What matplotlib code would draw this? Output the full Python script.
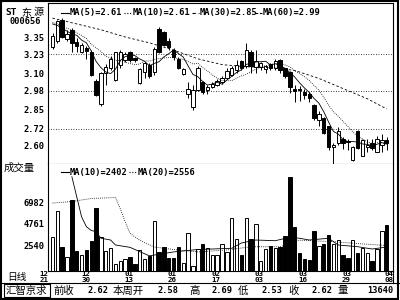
import matplotlib

matplotlib.use("Agg")

import matplotlib.pyplot as plt
import numpy as np
from matplotlib.lines import Line2D
from matplotlib.patches import Rectangle

# ---- daily candles, 12/21 .. 04/08 (70 sessions) ----
opens = [3.28, 3.32, 3.47, 3.335, 3.40, 3.318, 3.25, 3.272, 3.25, 3.05,
         2.89, 3.10, 3.135, 3.055, 3.16, 3.19, 3.25, 3.205, 3.035, 3.11,
         3.16, 3.11, 3.405, 3.385, 3.32, 3.26, 3.20, 3.095, 2.96, 2.87,
         2.985, 3.042, 2.985, 3.008, 3.02, 3.04, 3.07, 3.09, 3.12, 3.187,
         3.15, 3.249, 3.146, 3.146, 3.128, 3.164, 3.135, 3.19, 3.135, 3.11,
         2.99, 2.99, 2.974, 2.958, 2.882, 2.78, 2.79, 2.737, 2.59, 2.62,
         2.646, 2.635, 2.503, 2.705, 2.53, 2.595, 2.62, 2.56, 2.607, 2.64]
highs = [3.38, 3.47, 3.48, 3.40, 3.41, 3.34, 3.31, 3.29, 3.26, 3.06,
         3.11, 3.165, 3.22, 3.25, 3.26, 3.25, 3.255, 3.215, 3.14, 3.18,
         3.17, 3.28, 3.42, 3.39, 3.34, 3.275, 3.21, 3.14, 3.04, 3.02,
         3.15, 3.05, 3.02, 3.04, 3.06, 3.08, 3.135, 3.15, 3.19, 3.19,
         3.31, 3.26, 3.26, 3.18, 3.16, 3.17, 3.20, 3.20, 3.14, 3.115,
         3.02, 3.01, 2.99, 2.97, 2.89, 2.84, 2.80, 2.74, 2.62, 2.73,
         2.66, 2.65, 2.60, 2.71, 2.645, 2.65, 2.65, 2.67, 2.68, 2.66]
lows = [3.27, 3.31, 3.34, 3.32, 3.245, 3.25, 3.24, 3.20, 3.085, 2.945,
        2.875, 3.02, 3.12, 3.05, 3.14, 3.18, 3.18, 3.175, 3.03, 3.07,
        3.07, 3.09, 3.24, 3.285, 3.26, 3.19, 3.13, 3.09, 2.93, 2.85,
        2.98, 2.96, 2.96, 3.00, 3.01, 3.03, 3.06, 3.08, 3.10, 3.12,
        3.14, 3.10, 3.10, 3.12, 3.10, 3.12, 3.12, 3.105, 3.07, 2.963,
        2.90, 2.91, 2.92, 2.90, 2.78, 2.74, 2.68, 2.57, 2.47, 2.61,
        2.58, 2.57, 2.50, 2.58, 2.53, 2.56, 2.57, 2.56, 2.56, 2.57]
closes = [3.36, 3.46, 3.35, 3.37, 3.31, 3.285, 3.295, 3.256, 3.09, 2.95,
          3.105, 3.145, 3.20, 3.245, 3.25, 3.235, 3.19, 3.19, 3.13, 3.17,
          3.08, 3.27, 3.25, 3.295, 3.28, 3.215, 3.14, 3.13, 2.99, 2.985,
          3.14, 2.974, 3.008, 3.03, 3.045, 3.07, 3.116, 3.14, 3.157, 3.135,
          3.26, 3.15, 3.187, 3.169, 3.15, 3.135, 3.187, 3.123, 3.082, 3.004,
          2.98, 2.982, 2.95, 2.928, 2.79, 2.82, 2.69, 2.595, 2.607, 2.705,
          2.62, 2.628, 2.595, 2.584, 2.64, 2.607, 2.584, 2.646, 2.64, 2.62]

ma5 = [3.44, 3.43, 3.41, 3.39, 3.37, 3.362, 3.329, 3.310, 3.254, 3.182,
       3.139, 3.109, 3.098, 3.129, 3.189, 3.215, 3.224, 3.222, 3.199, 3.183,
       3.152, 3.168, 3.180, 3.213, 3.235, 3.262, 3.236, 3.212, 3.151, 3.092,
       3.077, 3.044, 3.019, 3.027, 3.039, 3.025, 3.054, 3.080, 3.106, 3.124,
       3.162, 3.168, 3.178, 3.180, 3.183, 3.158, 3.166, 3.153, 3.135, 3.106,
       3.075, 3.035, 3.000, 2.969, 2.927, 2.895, 2.836, 2.765, 2.700, 2.683,
       2.643, 2.631, 2.631, 2.627, 2.614, 2.611, 2.602, 2.612, 2.623, 2.613]
ma10 = [3.45, 3.44, 3.42, 3.41, 3.40, 3.38, 3.36, 3.34, 3.30, 3.276,
        3.250, 3.219, 3.204, 3.191, 3.185, 3.177, 3.167, 3.160, 3.164, 3.186,
        3.184, 3.196, 3.201, 3.206, 3.209, 3.207, 3.202, 3.196, 3.182, 3.164,
        3.170, 3.140, 3.116, 3.089, 3.066, 3.051, 3.049, 3.050, 3.067, 3.082,
        3.094, 3.111, 3.129, 3.143, 3.153, 3.160, 3.167, 3.165, 3.158, 3.145,
        3.117, 3.100, 3.077, 3.052, 3.016, 2.985, 2.935, 2.882, 2.835, 2.805,
        2.769, 2.734, 2.698, 2.664, 2.649, 2.627, 2.617, 2.622, 2.625, 2.613]
ma30_idx = [0, 5, 10, 15, 20, 25, 30, 35, 40, 45, 50, 55, 60, 65, 69]
ma30 = [3.48, 3.44, 3.40, 3.35, 3.31, 3.26, 3.20, 3.16, 3.145, 3.14,
        3.12, 3.065, 2.995, 2.925, 2.855]

volume = [3460, 6120, 2436, 1350, 7216, 1996, 1586, 2098, 3020, 6366,
          3460, 2026, 2272, 665, 1003, 1146, 1412, 665, 2098, 1146,
          1484, 5066, 1924, 2436, 1249, 1249, 2374, 737, 3869, 460,
          2200, 2680, 2333, 1586, 1586, 2680, 1860, 5400, 3190, 1586,
          5340, 3190, 4760, 972, 2200, 2507, 2272, 2436, 3562, 9600,
          4421, 1822, 1146, 1075, 4043, 2507, 2680, 3633, 2712, 3122,
          1586, 1310, 3122, 1760, 2333, 1760, 1003, 2200, 4043, 4657]
vma10_idx = [4, 5, 6, 7, 8, 9, 10, 12, 13, 16, 20, 25, 30, 37, 39, 42,
             46, 49, 51, 53, 57, 59, 63, 66, 69]
vma10 = [9600, 7550, 5500, 4480, 4100, 3970, 3300, 3120, 2610, 2370, 1500,
         1900, 2150, 2270, 2815, 3120, 3050, 3400, 3300, 3120, 3300, 2610,
         2436, 2200, 2402]
vma20_idx = [0, 4, 8, 13, 14, 15, 16, 18, 21, 25, 30, 36, 41, 47, 51, 58,
             63, 69]
vma20 = [6900, 7060, 7370, 7470, 6300, 5000, 3800, 3100, 2400, 2150, 1900,
         2100, 2430, 2430, 3100, 2950, 2750, 2556]

price_ticks = [3.35, 3.23, 3.10, 2.98, 2.85, 2.72, 2.60]
price_grid = [3.23, 2.98, 2.72]
volume_ticks = [2540, 4761, 6982]
date_pos = [-1.7, 6.9, 15.8, 24.7, 33.7, 42.7, 51.7, 60.7, 69.5]
date_labels = ["12\n21", "12\n30", "01\n13", "01\n26", "02\n17",
               "03\n03", "03\n16", "03\n29", "04\n08"]

price_legend = ["MA(5)=2.61", "MA(10)=2.61", "MA(30)=2.85", "MA(60)=2.99"]
volume_legend = ["MA(10)=2402", "MA(20)=2556"]
footer = [("前收", "2.62"), ("本周开", "2.58"), ("高", "2.69"),
          ("低", "2.53"), ("收", "2.62"), ("量", "13640")]

W, H = 400, 300
MONO = "DejaVu Sans Mono"
CJK = ["Noto Sans CJK SC", "DejaVu Sans"]
SOLID = "-"
DOTS = (0, (1, 1.5))
DASH = (0, (3, 2.5))
LDASH = (0, (2.5, 1.5))


def fx(px):
    return px / W


def fy(py):
    return 1 - py / H


def mono(fig, px, py, s, size=6.2, **kw):
    fig.text(fx(px), fy(py), s, family=MONO, weight="bold", fontsize=size,
             va="center", ha=kw.pop("ha", "left"), **kw)


def cjk(fig, px, py, s, size=7.5):
    fig.text(fx(px), fy(py), s, family=CJK, fontsize=size, va="center")


def mark(fig, x0, x1, py, ls):
    fig.add_artist(Line2D([fx(x0), fx(x1)], [fy(py), fy(py)],
                          transform=fig.transFigure, color="black",
                          lw=0.8, ls=ls))


fig = plt.figure(figsize=(4, 3), dpi=100)
fig.patch.set_facecolor("white")

ax_p = fig.add_axes([fx(48), fy(164), (393 - 48) / W, (164 - 3) / H])
ax_v = fig.add_axes([fx(48), fy(270.5), (393 - 48) / W, (270.5 - 164) / H])

x = np.arange(len(closes))
o = np.array(opens)
c = np.array(closes)
up = c >= o
face = np.where(up, "white", "black")

# price panel
ax_p.vlines(x, lows, highs, color="black", lw=0.7, zorder=2)
ax_p.bar(x, np.maximum(np.abs(c - o), 0.004), bottom=np.minimum(o, c),
         width=0.7, color=face, edgecolor="black", linewidth=0.7, zorder=3)
ax_p.plot(x, ma5, color="black", lw=0.6, zorder=4)
ax_p.plot(x, ma10, color="black", lw=0.6, ls=DOTS, zorder=4)
ax_p.plot(ma30_idx, ma30, color="black", lw=0.6, ls=DASH, zorder=4)
for g in price_grid:
    ax_p.axhline(g, color="black", lw=0.6, ls=(0, (1, 2)), zorder=1)

ax_p.set_xlim(-0.93, 70.3)
ax_p.set_ylim(2.4761, 3.584)
ax_p.set_xticks([])
ax_p.set_yticks(price_ticks)
ax_p.set_yticklabels([f"{t:.2f}" for t in price_ticks], family=MONO,
                     weight="bold", fontsize=6.3)
ax_p.tick_params(axis="y", length=0, pad=2.5)

# volume panel
ax_v.bar(x, volume, width=0.7, color=face, edgecolor="black",
         linewidth=0.7, zorder=3)
ax_v.plot(vma10_idx, vma10, color="black", lw=0.6, zorder=4)
ax_v.plot(vma20_idx, vma20, color="black", lw=0.6, ls=DOTS, zorder=4)
ax_v.set_xlim(-0.93, 70.3)
ax_v.set_ylim(0, 10900)
ax_v.set_xticks([])
ax_v.set_yticks(volume_ticks)
ax_v.set_yticklabels([str(t) for t in volume_ticks], family=MONO,
                     weight="bold", fontsize=6.3)
ax_v.tick_params(axis="y", length=0, pad=2.5)
ax_v.spines["top"].set_visible(False)

xaxis_tf = ax_v.get_xaxis_transform()
for pos, lab in zip(date_pos, date_labels):
    month, day = lab.split("\n")
    ax_v.text(pos, -0.035, month, transform=xaxis_tf, ha="center",
              va="center", family=MONO, weight="bold", fontsize=5.4,
              clip_on=False)
    ax_v.text(pos, -0.09, day, transform=xaxis_tf, ha="center",
              va="center", family=MONO, weight="bold", fontsize=5.4,
              clip_on=False)

for ax in (ax_p, ax_v):
    for sp in ax.spines.values():
        sp.set_linewidth(0.8)

# header and legends
mono(fig, 5, 12.5, "ST", size=6.8)
cjk(fig, 21, 12.5, "东", size=7.3)
cjk(fig, 34, 12.5, "源", size=7.3)
mono(fig, 10, 21.5, "000656")

for label, (m0, m1), lx, ls in zip(price_legend,
                                   [(61, 69), (124, 132), (192, 199), (255, 262)],
                                   [70, 133, 200, 263],
                                   [SOLID, DOTS, DASH, LDASH]):
    mark(fig, m0, m1, 12.5, ls)
    mono(fig, lx, 12.5, label)

cjk(fig, 4, 168, "成交量", size=7.5)
for label, (m0, m1), lx, ls in zip(volume_legend, [(61, 69), (129, 137)],
                                   [70, 138], [SOLID, DOTS]):
    mark(fig, m0, m1, 172, ls)
    mono(fig, lx, 172, label)

cjk(fig, 7, 277, "日线", size=7)

# footer bar
fig.add_artist(Line2D([fx(393), fx(393)], [fy(270.5), fy(283)],
                      transform=fig.transFigure, color="black", lw=0.8))
fig.add_artist(Line2D([0, 1], [fy(283), fy(283)],
                      transform=fig.transFigure, color="black", lw=0.8))
fig.add_artist(Rectangle((fx(4), fy(297)), fx(50) - fx(4), fy(284) - fy(297),
                         transform=fig.transFigure, fill=False,
                         edgecolor="black", lw=0.8))
cjk(fig, 6, 290.5, "汇智京求", size=7.5)
for (name, val), nx, vx in zip(footer, [53, 113, 189, 238, 288, 338],
                               [87, 158, 212, 262, 312, 367]):
    cjk(fig, nx, 290.5, name, size=7.5)
    mono(fig, vx, 290.5, val)

fig.add_artist(Rectangle((0.002, 0.003), 0.994, 0.993,
                         transform=fig.transFigure, fill=False,
                         edgecolor="black", lw=1.5))

fig.savefig("out.png", dpi=100)
